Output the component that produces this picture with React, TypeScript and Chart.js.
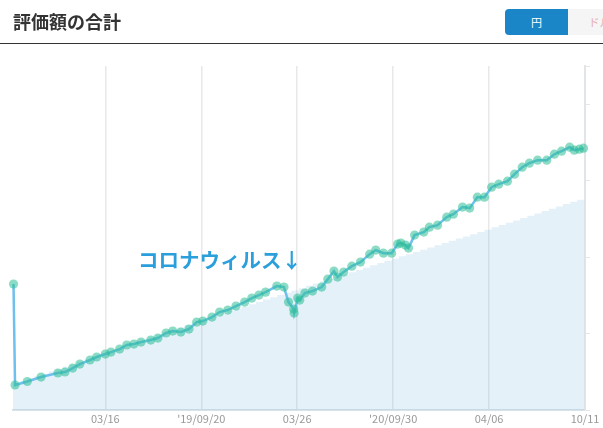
import React, { useEffect, useRef } from 'react';
import { Chart, registerables } from 'chart.js';

Chart.register(...registerables);

// x は 2018/09/16 からの経過日数
const tickDays = [181, 369, 557, 745, 933, 1121];
const tickLabels = ['03/16', "'19/09/20", '03/26', "'20/09/30", '04/06', '10/11'];

const valueDays = [
  1, 4, 28, 55, 88, 102, 117, 131, 151, 164, 181, 192, 209, 223, 237, 251, 270, 284, 300, 313,
  329, 345, 360, 372, 390, 405, 421, 437, 454, 468, 482, 495, 517, 531, 540, 550, 551, 558, 562, 572,
  587, 605, 617, 629, 636, 648, 664, 681, 699, 711, 726, 742, 754, 760, 769, 775, 787, 805, 816, 832,
  850, 863, 881, 895, 910, 924, 938, 952, 969, 983, 998, 1012, 1028, 1046, 1061, 1075, 1091, 1100, 1110, 1118,
];
const values = [
  164.7, 32.7, 37.3, 43.1, 48.4, 49.7, 54.9, 60.1, 65.4, 69.3, 73.2, 75.8, 79.7, 85, 86.3, 88.9, 91.5, 94.1, 100.7, 103.3,
  102, 105.9, 115, 116.3, 121.6, 128.1, 130.7, 135.9, 141.2, 146.4, 150.3, 154.2, 162.1, 160.8, 141.2, 132, 126.8, 146.4, 143.8, 152.9,
  155.6, 160.8, 171.2, 181.7, 173.9, 180.4, 188.2, 193.5, 203.9, 209.2, 205.2, 205.2, 217, 218.3, 215.7, 211.8, 228.8, 232.7, 239.2, 241.8,
  252.3, 256.2, 265.4, 264.1, 278.4, 278.4, 291.5, 295.4, 299.3, 308.5, 317.6, 322.9, 326.8, 326.8, 334.6, 338.6, 343.8, 339.9, 341.2, 342.5,
];

// 受渡金額（2週間ごと）
const costs = [
  31.4, 34.5, 37.7, 40.8, 44, 47, 50.3, 53.4, 56.6, 59.7, 62.9, 66, 69.2, 72.4, 75.6, 78.9, 82.1, 85.3, 88.6, 91.8,
  95.1, 98.3, 101.6, 104.8, 108, 111.2, 114.4, 117.4, 120.4, 123.4, 126.4, 129.4, 132.4, 135.4, 138.4, 141.4, 144.4, 147.4, 150.4, 153.4,
  156.4, 159.4, 162.4, 165.4, 168.4, 171.4, 174.4, 177.4, 180.3, 183.3, 186.2, 189.2, 192.2, 195.1, 198.1, 201, 203.9, 206.8, 209.7, 212.6,
  215.5, 218.4, 221.3, 224.2, 227.1, 230, 232.9, 235.9, 239, 242, 245, 248, 251.1, 254.1, 257.2, 260.2, 263.3, 266.3, 269.4, 272.4, 275,
];

const jpFont = '"Noto Sans CJK JP", "Noto Sans", sans-serif';

export default function App() {
  const canvasRef = useRef<HTMLCanvasElement | null>(null);

  useEffect(() => {
    const canvas = canvasRef.current;
    if (!canvas) return;

    const points = valueDays.map((x, i) => ({ x, y: values[i] }));

    const chart = new Chart(canvas, {
      type: 'line',
      data: {
        datasets: [
          {
            label: '評価額',
            data: points,
            borderColor: '#6fc0ee',
            borderWidth: 2.5,
            tension: 0,
            pointRadius: 4.6,
            pointHoverRadius: 4.6,
            pointBorderWidth: 0,
            pointBackgroundColor: 'rgba(44,190,150,0.55)',
            fill: false,
            clip: false,
          },
          {
            label: '受渡金額',
            data: costs.map((y, i) => ({ x: i * 14, y })),
            borderWidth: 0,
            pointRadius: 0,
            stepped: 'after',
            backgroundColor: 'rgba(120,185,225,0.2)',
            fill: 'origin',
          },
        ],
      },
      options: {
        responsive: false,
        animation: false,
        devicePixelRatio: 1,
        layout: { padding: { left: 13, top: 66 } },
        plugins: { legend: { display: false }, tooltip: { enabled: false } },
        scales: {
          x: {
            type: 'linear',
            min: 0,
            max: 1121,
            afterFit: (axis) => {
              axis.height = 18;
            },
            afterBuildTicks: (axis) => {
              axis.ticks = tickDays.map((value) => ({ value }));
            },
            grid: { color: '#e8e8e8', lineWidth: 1.5, drawTicks: false },
            border: { color: '#d9e2e8', width: 2 },
            ticks: {
              autoSkip: false,
              maxRotation: 0,
              padding: 2,
              color: '#999999',
              font: { family: jpFont, size: 11 },
              callback: (value) => tickLabels[tickDays.indexOf(Number(value))],
            },
          },
          y: {
            position: 'right',
            min: 0,
            max: 450,
            afterFit: (axis) => {
              axis.width = 18;
            },
            grid: { color: '#e6e6e6', drawOnChartArea: false, drawTicks: true, tickLength: 5 },
            border: { color: '#e2e5e8', width: 2 },
            ticks: { stepSize: 100, display: false },
          },
        },
      },
    });

    return () => chart.destroy();
  }, []);

  return (
    <div style={{ position: 'absolute', left: 0, top: 0, width: 603, height: 428, overflow: 'hidden', background: '#fff', fontFamily: jpFont }}>
      <canvas ref={canvasRef} width={603} height={428} style={{ position: 'absolute', left: 0, top: 0 }} />
      <div style={{ position: 'absolute', left: 13, top: 8, fontSize: 18, lineHeight: '26px', fontWeight: 700, color: '#333' }}>評価額の合計</div>
      <div style={{ position: 'absolute', left: 0, top: 43, width: 603, height: 1, background: '#333' }} />
      <div style={{ position: 'absolute', left: 505, top: 9, width: 63, height: 26, background: '#1a86c8', borderRadius: '4px 0 0 4px', color: '#fff', fontSize: 11, lineHeight: '26px', textAlign: 'center' }}>円</div>
      <div style={{ position: 'absolute', left: 568, top: 9, width: 63, height: 26, background: '#f5f5f5', color: '#e8aeb0', fontSize: 11, lineHeight: '26px', textAlign: 'center' }}>ドル</div>
      <div style={{ position: 'absolute', left: 138, top: 244, fontSize: 20.5, lineHeight: '30px', fontWeight: 700, color: '#2a9fdb', whiteSpace: 'nowrap' }}>コロナウィルス↓</div>
    </div>
  );
}
